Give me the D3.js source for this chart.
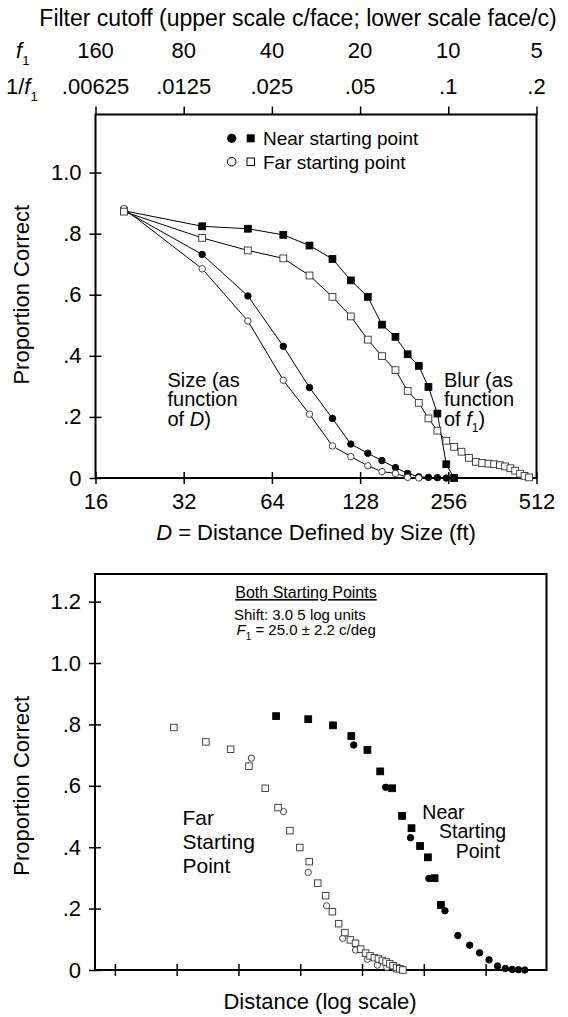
<!DOCTYPE html>
<html>
<head>
<meta charset="utf-8">
<script src="https://cdnjs.cloudflare.com/ajax/libs/d3/7.8.5/d3.min.js"></script>
<style>
  body { margin: 0; background: #fff; }
  svg { display: block; }
</style>
</head>
<body>
<svg id="chart" width="568" height="1017"></svg>
<script>
// ---- top panel data: distance D (ft) and proportion correct ----
var distances = [20, 37, 53, 70, 86, 103, 119, 136, 152, 169, 186, 203, 219, 235, 252, 268,
                 284, 301, 318, 334, 351, 367, 384, 400, 417, 433, 450, 466, 483];
var nearSize = [.876, .732, .596, .431, .296, .195, .111, .081, .057, .034, .015, .004, .002, .001, 0];
var farSize  = [.882, .685, .514, .320, .209, .105, .070, .040, .021, .015, .002, 0];
var nearBlur = [.875, .824, .816, .796, .761, .717, .647, .593, .502, .462, .405, .367, .298, .211, .045, 0];
var farBlur  = [.872, .786, .745, .719, .663, .593, .529, .453, .399, .353, .285, .246, .195, .155, .122, .102,
                .086, .066, .053, .049, .047, .045, .042, .038, .032, .024, .014, .007, .002];

var distTicks = [16, 32, 64, 128, 256, 512];
var f1Labels = ["160", "80", "40", "20", "10", "5"];
var invF1Labels = [".00625", ".0125", ".025", ".05", ".1", ".2"];
var propTicksTop = [0, .2, .4, .6, .8, 1.0];
var propLabelsTop = ["0", ".2", ".4", ".6", ".8", "1.0"];

// ---- bottom panel data: shifted distance (log scale) and proportion correct ----
var shiftTicks = [8, 16, 32, 64, 128, 256, 512];
var propTicksBottom = [0, .2, .4, .6, .8, 1.0, 1.2];
var propLabelsBottom = ["0", ".2", ".4", ".6", ".8", "1.0", "1.2"];

var farBlurShiftX = [15.5, 22.2, 29.3, 36.0, 43.2, 49.9, 57.0, 63.7, 70.8, 77.9, 85.1, 91.8, 98.5, 105.6,
                     112.3, 119.0, 126.1, 133.2, 140.0, 147.0, 153.8, 160.9, 167.6, 174.7, 181.4, 188.6, 195.3, 202.4];
var farBlurShiftY = [.790, .743, .719, .664, .592, .529, .454, .399, .353, .283, .242, .190, .151, .122,
                     .098, .087, .068, .055, .046, .040, .036, .031, .026, .020, .014, .008, .004, 0];
var farSizeShiftX = [37, 53, 70, 86, 103, 119, 136, 152, 169, 186, 203];
var farSizeShiftY = [.690, .516, .318, .209, .103, .065, .035, .016, .009, .003, .001];
var nearBlurShiftX = [48.8, 70.0, 92.4, 113.5, 136, 157, 179.5, 200.6, 223, 245.5, 268, 289, 310];
var nearBlurShiftY = [.827, .817, .797, .762, .717, .647, .592, .502, .462, .404, .367, .299, .212];
var nearSizeShiftX = [116.6, 167, 220.5, 271, 324.5, 375, 428.4, 478.8, 532, 586, 639, 690, 740, 794];
var nearSizeShiftY = [.733, .595, .431, .298, .193, .112, .081, .056, .033, .013, .005, .002, .001, 0];

var font = '"Liberation Sans", Arial, Helvetica, sans-serif';
var svg = d3.select("#chart");

function frame(g, x, y) {
  g.append("rect")
      .attr("x", x.range()[0])
      .attr("y", y.range()[1])
      .attr("width", x.range()[1] - x.range()[0])
      .attr("height", y.range()[0] - y.range()[1])
      .attr("fill", "none")
      .attr("stroke", "#000")
      .attr("stroke-width", 2);
}

function styleAxis(a, size) {
  a.attr("font-family", null).attr("font-size", null);
  a.select(".domain").remove();
  a.selectAll(".tick line").attr("stroke", "#000").attr("stroke-width", 1.5);
  a.selectAll(".tick text").attr("fill", "#000").style("font-family", font).style("font-size", size + "px");
}

// draws one series; shape "circle" or "square", filled or open, with or without a joining line
function series(g, x, y, xs, ys, shape, filled, joined, size) {
  var pts = ys.map(function(v, i) { return {X: xs[i], Y: v}; });
  if (joined) {
    var line = d3.line()
        .x(function(d) { return x(d.X); })
        .y(function(d) { return y(d.Y); });
    g.append("path")
        .datum(pts)
        .attr("fill", "none")
        .attr("stroke", "#000")
        .attr("stroke-width", 1)
        .attr("d", line);
  }
  var fill = filled ? "#000" : "#fff";
  var stroke = filled ? "#000" : "#333";
  if (shape == "circle") {
    g.selectAll(null).data(pts).enter().append("circle")
        .attr("cx", function(d) { return x(d.X); })
        .attr("cy", function(d) { return y(d.Y); })
        .attr("r", size / 2)
        .attr("fill", fill)
        .attr("stroke", stroke)
        .attr("stroke-width", 0.9);
  } else {
    g.selectAll(null).data(pts).enter().append("rect")
        .attr("x", function(d) { return x(d.X) - size / 2; })
        .attr("y", function(d) { return y(d.Y) - size / 2; })
        .attr("width", size)
        .attr("height", size)
        .attr("fill", fill)
        .attr("stroke", stroke)
        .attr("stroke-width", 0.9);
  }
}

function label(g, x, y, size, anchor) {
  return g.append("text")
      .attr("x", x)
      .attr("y", y)
      .attr("text-anchor", anchor || "start")
      .style("font-family", font)
      .style("font-size", size + "px");
}

// ================= top panel =================
var xTop = d3.scaleLog().base(2).domain([16, 512]).range([95.5, 536.5]);
var yTop = d3.scaleLinear().domain([0, 1.19]).range([478, 114.5]);
var gTop = svg.append("g");

label(gTop, 298, 26, 23, "middle").text("Filter cutoff (upper scale c/face; lower scale face/c)");

var rowF = label(gTop, 16, 58, 22);
rowF.append("tspan").style("font-style", "italic").text("f");
rowF.append("tspan").attr("dy", 7).style("font-size", "13px").text("1");
var rowInv = label(gTop, 6, 94, 22);
rowInv.append("tspan").text("1/");
rowInv.append("tspan").style("font-style", "italic").text("f");
rowInv.append("tspan").attr("dy", 7).style("font-size", "13px").text("1");

gTop.selectAll(null).data(distTicks).enter().append("text")
    .attr("x", function(d) { return xTop(d); })
    .attr("y", 58)
    .attr("text-anchor", "middle")
    .style("font-family", font).style("font-size", "22px")
    .text(function(d, i) { return f1Labels[i]; });
gTop.selectAll(null).data(distTicks).enter().append("text")
    .attr("x", function(d) { return xTop(d); })
    .attr("y", 94)
    .attr("text-anchor", "middle")
    .style("font-family", font).style("font-size", "22px")
    .text(function(d, i) { return invF1Labels[i]; });

var axTopUpper = gTop.append("g")
    .attr("transform", "translate(0," + yTop.range()[1] + ")")
    .call(d3.axisTop(xTop).tickValues(distTicks).tickFormat("").tickSize(8));
styleAxis(axTopUpper, 22);

var axTopX = gTop.append("g")
    .attr("transform", "translate(0," + yTop.range()[0] + ")")
    .call(d3.axisBottom(xTop).tickValues(distTicks).tickFormat(d3.format("d")).tickSize(6).tickPadding(9));
styleAxis(axTopX, 22);
axTopX.selectAll(".tick line").attr("y1", -6);

var axTopY = gTop.append("g")
    .attr("transform", "translate(" + xTop.range()[0] + ",0)")
    .call(d3.axisLeft(yTop).tickValues(propTicksTop).tickFormat(function(d, i) { return propLabelsTop[i]; })
      .tickSize(6).tickPadding(8));
styleAxis(axTopY, 22);
axTopY.selectAll(".tick line").attr("x1", 6);

frame(gTop, xTop, yTop);

label(gTop, 29, yTop(.6), 22, "middle")
    .attr("transform", "rotate(-90,29," + yTop(.6) + ")")
    .text("Proportion Correct");

var xt = label(gTop, 316, 540, 22, "middle");
xt.append("tspan").style("font-style", "italic").text("D");
xt.append("tspan").text(" = Distance Defined by Size (ft)");

// legend
gTop.append("circle").attr("cx", 231.7).attr("cy", 138.3).attr("r", 4.6).attr("fill", "#000");
gTop.append("rect").attr("x", 246.7).attr("y", 134.3).attr("width", 8).attr("height", 8).attr("fill", "#000");
label(gTop, 263, 145, 19).text("Near starting point");
gTop.append("circle").attr("cx", 231.7).attr("cy", 161.7).attr("r", 4.3)
    .attr("fill", "#fff").attr("stroke", "#000").attr("stroke-width", 1);
gTop.append("rect").attr("x", 247).attr("y", 158).attr("width", 7.5).attr("height", 7.5)
    .attr("fill", "#fff").attr("stroke", "#000").attr("stroke-width", 1);
label(gTop, 263, 169, 19).text("Far starting point");

// annotations
var sizeLines = ["Size (as", "function"];
sizeLines.forEach(function(s, i) { label(gTop, 167.5, 386.5 + i * 19.5, 20).text(s); });
var ofD = label(gTop, 167.5, 425.5, 20);
ofD.append("tspan").text("of ");
ofD.append("tspan").style("font-style", "italic").text("D");
ofD.append("tspan").text(")");
var blurLines = ["Blur (as", "function"];
blurLines.forEach(function(s, i) { label(gTop, 444, 386.5 + i * 19.5, 20).text(s); });
var ofF = label(gTop, 444, 425.5, 20);
ofF.append("tspan").text("of ");
ofF.append("tspan").style("font-style", "italic").text("f");
ofF.append("tspan").attr("dy", 6).style("font-size", "12px").text("1");
ofF.append("tspan").attr("dy", -6).text(")");

// series
series(gTop, xTop, yTop, distances, nearSize, "circle", true, true, 6.5);
series(gTop, xTop, yTop, distances, nearBlur, "square", true, true, 6.8);
series(gTop, xTop, yTop, distances, farSize, "circle", false, true, 6.5);
series(gTop, xTop, yTop, distances, farBlur, "square", false, true, 6.8);

// ================= bottom panel =================
var xBot = d3.scaleLog().base(2).domain([6.4, 1014]).range([95, 546.5]);
var yBot = d3.scaleLinear().domain([0, 1.29]).range([970, 574]);
var gBot = svg.append("g");

var axBotX = gBot.append("g")
    .attr("transform", "translate(0," + yBot.range()[0] + ")")
    .call(d3.axisBottom(xBot).tickValues(shiftTicks).tickFormat("").tickSize(6));
styleAxis(axBotX, 22);
axBotX.selectAll(".tick line").attr("y1", -6);

var axBotY = gBot.append("g")
    .attr("transform", "translate(" + xBot.range()[0] + ",0)")
    .call(d3.axisLeft(yBot).tickValues(propTicksBottom).tickFormat(function(d, i) { return propLabelsBottom[i]; })
      .tickSize(6).tickPadding(8));
styleAxis(axBotY, 22);
axBotY.selectAll(".tick line").attr("x1", 6);

frame(gBot, xBot, yBot);

label(gBot, 29, yBot(.6), 22, "middle")
    .attr("transform", "rotate(-90,29," + yBot(.6) + ")")
    .text("Proportion Correct");
label(gBot, 320, 1009, 22, "middle").text("Distance (log scale)");

label(gBot, 306, 598, 16, "middle").text("Both Starting Points").style("text-decoration", "underline");
label(gBot, 234, 620, 15).text("Shift: 3.0 5 log units");
var fl = label(gBot, 236.5, 635, 15);
fl.append("tspan").style("font-style", "italic").text("F");
fl.append("tspan").attr("dy", 5).style("font-size", "10px").text("1");
fl.append("tspan").attr("dy", -5).text(" = 25.0 \u00b1 2.2 c/deg");

var farLines = ["Far", "Starting", "Point"];
farLines.forEach(function(s, i) { label(gBot, 182.5, 825 + i * 24, 21).text(s); });
var nearLines = ["Near", "Starting", "Point"];
var nearX = [422.3, 439, 455.7];
nearLines.forEach(function(s, i) { label(gBot, nearX[i], 818.5 + i * 19.5, 19.5).text(s); });

series(gBot, xBot, yBot, nearSizeShiftX, nearSizeShiftY, "circle", true, false, 6.5);
series(gBot, xBot, yBot, nearBlurShiftX, nearBlurShiftY, "square", true, false, 6.8);
series(gBot, xBot, yBot, farSizeShiftX, farSizeShiftY, "circle", false, false, 6.3);
series(gBot, xBot, yBot, farBlurShiftX, farBlurShiftY, "square", false, false, 6.5);
</script>
</body>
</html>
